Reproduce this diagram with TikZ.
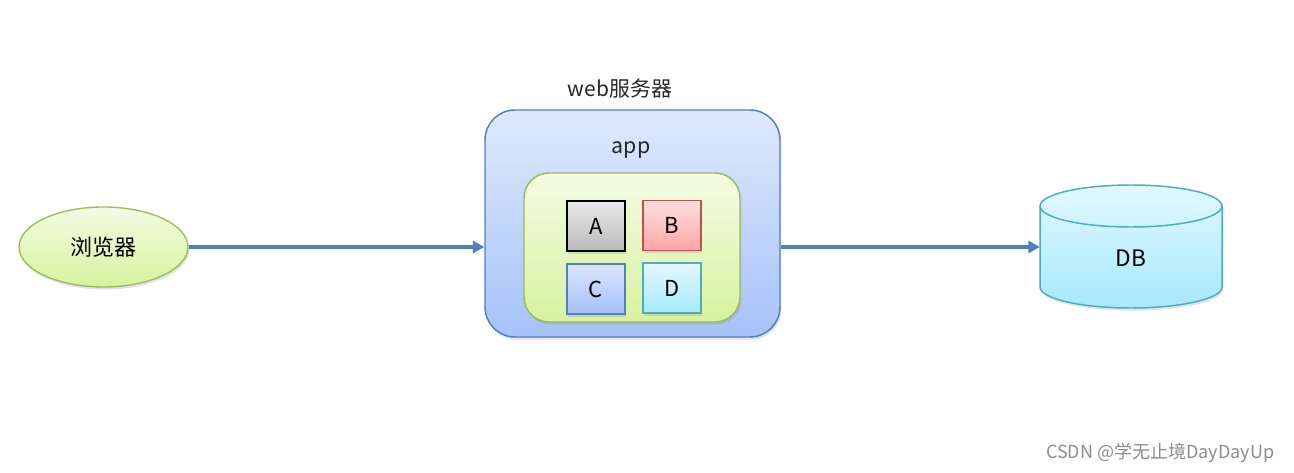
\documentclass[tikz,border=0pt]{standalone}
\usepackage{fontspec}
\setmainfont{Noto Sans CJK SC}
\usetikzlibrary{arrows.meta,shapes.geometric,shadows}
\definecolor{gtop}{HTML}{F3FBE3}
\definecolor{gbot}{HTML}{D6F39E}
\definecolor{gline}{HTML}{9BBB59}
\definecolor{stop}{HTML}{DFE9FC}
\definecolor{sbot}{HTML}{A6C2F9}
\definecolor{sline}{HTML}{4F81BD}
\definecolor{atop}{HTML}{E8E8E8}
\definecolor{abot}{HTML}{BBBBBB}
\definecolor{btop}{HTML}{FFE0E0}
\definecolor{bbot}{HTML}{FFA5A5}
\definecolor{bline}{HTML}{C0504D}
\definecolor{ctop}{HTML}{DDE7FD}
\definecolor{cbot}{HTML}{A4C0FA}
\definecolor{dtop}{HTML}{E2F8FF}
\definecolor{dbot}{HTML}{A6E9FB}
\definecolor{dline}{HTML}{4BACC6}
\definecolor{txt}{HTML}{262626}
\tikzset{
  shad/.style={drop shadow={opacity=0.22,shadow xshift=1pt,shadow yshift=-2pt}},
  conn/.style={draw=sline,line width=2.8pt,-{Triangle[length=8.5pt,width=9pt]}},
  cell/.style={shad,draw,line width=1pt,minimum width=43.5pt,minimum height=37.5pt,inner sep=0pt,font=\fontsize{16.5pt}{18pt}\selectfont},
}
\begin{document}
\begin{tikzpicture}[x=0.75pt,y=-0.75pt]
\useasboundingbox (0,0) rectangle (1294,473);
% browser
\node[shad,ellipse,draw=gline,line width=1pt,top color=gtop,bottom color=gbot,minimum width=126.75pt,minimum height=60pt,inner sep=0pt,font=\fontsize{16.5pt}{18pt}\selectfont] (br) at (103.5,247) {浏览器};
% server
\node[shad,draw=sline,line width=1.1pt,rounded corners=22.5pt,top color=stop,bottom color=sbot,minimum width=221.25pt,minimum height=170.25pt,inner sep=0pt] (srv) at (632.5,223.5) {};
\node[text=txt,font=\fontsize{15.7pt}{18pt}\selectfont] (srvl) at (620,89) {web服务器};
\node[text=txt,font=\fontsize{16pt}{18pt}\selectfont] (appl) at (631,150) {app};
\node[shad,draw=gline,line width=1.1pt,rounded corners=18.75pt,top color=gtop,bottom color=gbot,minimum width=162pt,minimum height=111.75pt,inner sep=0pt] (app) at (632,247.5) {};
\node[cell,draw=black,top color=atop,bottom color=abot] (A) at (596,226) {A};
\node[cell,draw=bline,top color=btop,bottom color=bbot] (B) at (672,225.5) {B};
\node[cell,draw=sline,top color=ctop,bottom color=cbot] (C) at (596,289) {C};
\node[cell,draw=dline,top color=dtop,bottom color=dbot] (D) at (672,288) {D};
% DB cylinder
\node[minimum width=136.5pt,minimum height=92.25pt,inner sep=0pt] (db) at (1131,246.5) {};
\path[shad,top color=dtop,bottom color=dbot,draw=dline,line width=1.1pt]
  (1040,206) -- (1040,287) arc[start angle=180,end angle=360,x radius=68.25pt,y radius=15.75pt]
  -- (1222,206) arc[start angle=0,end angle=180,x radius=68.25pt,y radius=15.75pt] -- cycle;
\draw[dline,line width=1.1pt] (1040,206) arc[start angle=180,end angle=360,x radius=68.25pt,y radius=15.75pt];
\node[font=\fontsize{17pt}{18pt}\selectfont] (dbl) at (1131,258) {DB};
% connectors
\draw[conn] (br.east) -- (br.east -| srv.west);
\draw[conn] (srv.east |- br.east) -- (db.west |- br.east);
% watermark
\node[anchor=east,text=black!45,font=\fontsize{13.5pt}{15pt}\selectfont] (wm) at (1279,453) {CSDN @学无止境DayDayUp};
\end{tikzpicture}
\end{document}
